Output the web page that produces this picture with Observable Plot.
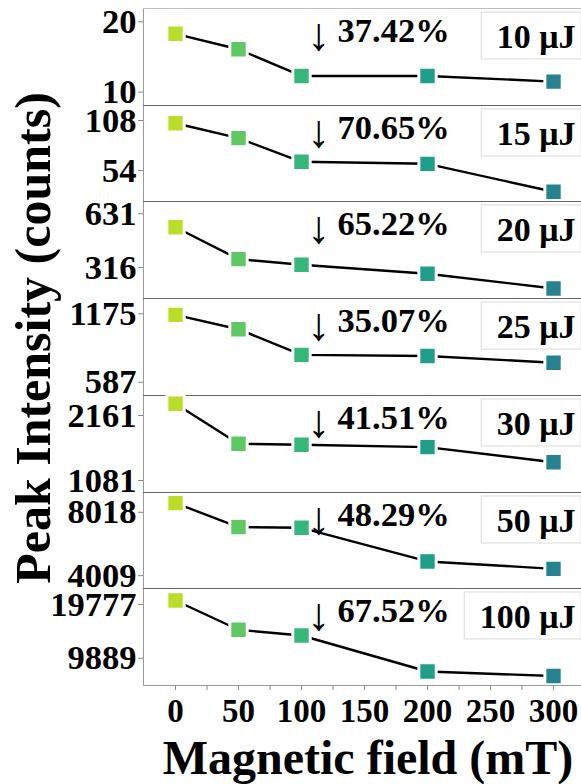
<!DOCTYPE html>
<html><head><meta charset="utf-8">
<script src="https://cdn.jsdelivr.net/npm/d3@7"></script>
<script src="https://cdn.jsdelivr.net/npm/@observablehq/plot@0.6"></script>
<style>
body{margin:0;background:#fff}
#chart{position:relative;width:581px;height:784px;background:#fff;font-family:"Liberation Serif","Times New Roman",serif;font-weight:bold}
#chart svg{position:absolute;left:0;overflow:visible}
</style>
</head><body><div id="chart"></div>
<script>
const fields = [0, 50, 100, 200, 300];
const fieldColors = ["#b8de29", "#5ec962", "#35b779", "#1f9e89", "#26828e"];
const energies = ["10 μJ", "15 μJ", "20 μJ", "25 μJ", "30 μJ", "50 μJ", "100 μJ"];
const drops = ["37.42%", "70.65%", "65.22%", "35.07%", "41.51%", "48.29%", "67.52%"];
const intensities = [
  [18.3, 16.1, 12.3, 12.3, 11.5],
  [105, 88.9, 63.4, 61.2, 31],
  [552, 365, 332, 279, 193],
  [1166, 1043, 822, 813, 755],
  [2355, 1691, 1675, 1635, 1385],
  [8600, 7079, 7037, 4907, 4440],
  [20513, 15122, 14070, 7442, 6620]
];
const yTicks = [[10, 20], [54, 108], [316, 631], [587, 1175], [1081, 2161], [4009, 8018], [9889, 19777]];
const yDomains = [[8.1, 21.9], [20.5, 124.2], [134, 703], [473, 1307], [882, 2493], [3195, 9270], [4866, 22721]];
const xDomain = [-25.4, 322.2];
const xTicks = d3.range(0, 301, 25);

const FONT = '"Liberation Serif","Times New Roman",serif';
const chart = document.getElementById("chart");
const W = 581, L = 143, top0 = 8, step = 96.7, bottomMargin = 52;

function legendBox(label, fontSize) {
  return (index, scales, values, dims) => {
    const ctx = document.createElement("canvas").getContext("2d");
    ctx.font = `bold ${fontSize}px ${FONT}`;
    const w = ctx.measureText(label).width + 21;
    const right = dims.width - dims.marginRight;
    return d3.create("svg:rect")
      .attr("x", right - w).attr("y", dims.marginTop + 4)
      .attr("width", w).attr("height", 47)
      .attr("fill", "white").attr("stroke", "#dadada").node();
  };
}

energies.forEach((label, i) => {
  const top = Math.round(top0 + i * step);
  const next = Math.round(top0 + (i + 1) * step);
  const last = i === energies.length - 1;
  const h = next - top;
  const data = fields.map((f, j) => ({field: f, value: intensities[i][j], color: fieldColors[j]}));
  const marks = [
    Plot.frame({anchor: "left", stroke: "#9a9a9a"}),
    Plot.frame({anchor: "top", stroke: i === 0 ? "#bdbdbd" : "#666"}),
    Plot.axisY({ticks: yTicks[i], tickFormat: d => String(d), tickSize: 5, tickPadding: 2, stroke: "#888", fill: "black", fontSize: 34.5, fontWeight: "bold", label: null}),
    legendBox(label, 34),
    Plot.line(data, {x: "field", y: "value", stroke: "black", strokeWidth: 2.4}),
    Plot.dot(data, {x: "field", y: "value", symbol: "square", r: 9.8, fill: "color", stroke: "white", strokeWidth: 3}),
    Plot.text(["↓"], {text: d => d, frameAnchor: "top-left", dx: 175, dy: 27, lineAnchor: "middle", textAnchor: "middle", fontSize: 46, fontWeight: "normal", fill: "black"}),
    Plot.text([drops[i]], {text: d => d, frameAnchor: "top-left", dx: 194, dy: 22, lineAnchor: "middle", textAnchor: "start", fontSize: 34.5, fontWeight: "bold", fill: "black"}),
    Plot.text([label], {text: d => d, frameAnchor: "top-right", dx: -6, dy: 29, lineAnchor: "middle", textAnchor: "end", fontSize: 34, fontWeight: "bold", fill: "black"})
  ];
  if (last) {
    marks.push(Plot.frame({anchor: "bottom", stroke: "#9a9a9a"}));
    marks.push(Plot.axisX({ticks: xTicks, tickFormat: d => d % 50 ? "" : String(d), tickSize: 5, tickPadding: 8, stroke: "#888", fill: "black", fontSize: 33, fontWeight: "bold", label: null}));
  } else {
    marks.push(Plot.axisX({ticks: [], label: null}));
  }
  const p = Plot.plot({
    width: W, height: h + (last ? bottomMargin : 0),
    marginLeft: L, marginRight: 0, marginTop: 0, marginBottom: last ? bottomMargin : 0,
    x: {domain: xDomain},
    y: {domain: yDomains[i]},
    color: {type: "identity"},
    style: {fontFamily: FONT, fontWeight: "bold", background: "transparent", overflow: "visible"},
    marks
  });
  p.style.top = top + "px";
  chart.appendChild(p);
});

const overlay = d3.create("svg").attr("width", W).attr("height", 784).style("top", "0px").style("pointer-events", "none");
overlay.append("text").attr("transform", "translate(50,338) rotate(-90)")
  .attr("text-anchor", "middle").attr("font-family", FONT).attr("font-weight", "bold").attr("font-size", 50)
  .text("Peak Intensity (counts)");
overlay.append("text").attr("x", 368).attr("y", 774)
  .attr("text-anchor", "middle").attr("font-family", FONT).attr("font-weight", "bold").attr("font-size", 48)
  .text("Magnetic field (mT)");
chart.appendChild(overlay.node());
</script>
</body></html>
